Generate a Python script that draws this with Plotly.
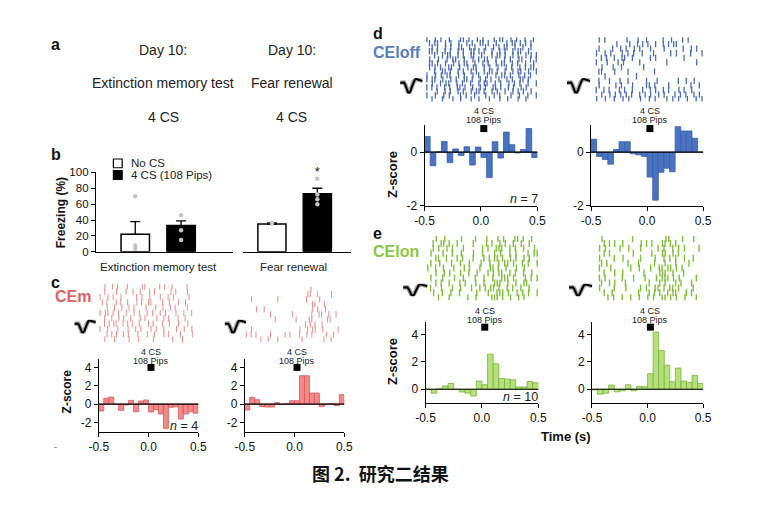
import numpy as np
import plotly.graph_objects as go

W, H = 771, 508
FONT = "Liberation Sans, Arial, sans-serif"
CJK = "Noto Sans CJK SC"

# ---------------- Panel b data (freezing %) ----------------
b_conditions = ["No CS", "4 CS"]
b_mean_ext = [22, 33]
b_err_ext = [16, 6]
b_mean_ren = [35, 73]
b_err_ren = [1.5, 7]
b_dots_ext_nocs = [70, 8, 4]
b_dots_ext_cs = [46, 27, 15]
b_dots_ren_nocs = [35.5, 36.5]
b_dots_ren_cs = [92, 72, 66, 60]
b_star_value = 99
b_yticks = [0, 20, 40, 60, 80, 100]

# ---------------- PSTH z-scores (20 bins of 50 ms, -0.5..0.5 s) ----------------
bin_width = 0.05
hist_c_ext = [-0.76, 0.62, 0.76, -0.05, -0.69, -0.1, 0.4, -0.84, 0.33, 0.44,
              -0.87, -0.62, -1.09, -2.65, -0.36, -0.3, -1.64, -1.09, -0.84, -1.0]
hist_c_ren = [-0.65, 0.73, 0.47, -0.29, -0.33, -0.33, 0.15, -0.05, 0.05, 0.36,
              0.36, 3.09, 3.09, 1.2, 1.2, -0.29, 0.0, 0.05, -0.18, 1.02]
hist_d_ext = [0.58, -0.51, 0.02, 0.4, -0.39, 0.12, -0.12, 0.2, -0.48, 0.19,
              -0.2, -0.95, 0.39, -0.22, 0.75, 0.28, -0.03, 0.1, 0.88, -0.2]
hist_d_ren = [0.48, -0.16, -0.27, -0.45, 0.1, 0.39, 0.39, -0.06, -0.1, -0.16,
              -0.93, -1.79, -0.75, -0.6, -0.73, 0.95, 0.79, 0.79, 0.52, 0.0]
hist_e_ext = [0.0, -0.29, 0.05, 0.24, 0.43, 0.0, -0.2, -0.29, -0.5, 0.6,
              0.33, 2.57, 1.86, 0.79, 0.74, 0.69, 0.17, 0.17, 0.57, 0.48]
hist_e_ren = [-0.05, -0.36, -0.29, 0.31, -0.19, -0.12, 0.33, -0.12, 0.2, 0.19,
              1.14, 4.19, 2.83, 1.76, 0.55, 1.55, 0.6, 0.5, 1.02, 0.43]
cs_onset_t = 0.025
cs_marker_c = 4.0
cs_marker_d = 0.88
cs_marker_e = 4.55
n_units = {"c": 4, "d": 7, "e": 10}

# ---------------- Raster spike trains ('|' = spike, one trial per row) ----------------
raster_c_ext = [
    "..|..|.|...|.....||.....|.|..|.....|....",
    "..|....|...|..|..|...|.|......|.|....|....",
    "|..|.|..|.....|.|..|...|..|.|.....|...",
    ".|.|...|.|..|...|.|..||....|..|...|..|.....",
    "...|..|..|..|.|....|...|..|..|.|....|....",
    "|.||.|.|..|..|.|..|.|..|.|...|..|..|..",
    "..|..|..|.|..|...|.|....|..|.|...|..|.....",
    "..|.|.||..|.|.|..|...|.|...|..|...|...|....",
    "|..|...|...|..|.|...|.|..|....|..|..|..",
    "...|.|.|..|.|...|...|..|...|.|....|....|..",
    "..|...|.....|...|.....|.......|...|......",
]
raster_c_ren = [
    "..........................|.............",
    "..........................||..|.....|.....",
    "..|.........|..........|....|.........",
    "............................||...|........",
    "....|..|..................|.|..|.......",
    "..........|........|.......|..||..|..|...",
    "...........|.......|....||.....||.....",
    ".........................|.|.|..|.........",
    "..|..................|..|.||..|.....|..",
    "|.|.|.....|.....|.|...|..|.|.....|..|....",
    "......|..|...|.........|........|..|.....",
]
raster_d_ext = [
    "|..|.|..|...||.|..|.|...|.||..|.|..|..|.",
    ".|.||..|.|..|..|.|..||.|..|...|.||.|.|.|..",
    "..|.|..|.|..||..|.|...|..|.|.||..|..|..|..",
    ".||.|..|.|..|.|..||.|.|..|..|.|..|.||..|...",
    "...|..|.||..|.|..||..|...|.||.|..|.|..|.|.|",
    ".|..|..|.||..|..|.|.||..|..|.|..||..|.|",
    ".||.|..|..|.|.||..|..|.|..|.||..|.|..|..|.",
    ".|.|.|..||..|..|.||..|.|..|..|.|..|.|.||.",
    "...|..||.|..|.|..|.|..|.||.|..|..|.||..|..|",
    "|..|.|.||..|.|..|.|..|..|.||.|..|.|.|..",
    "|.||..|..|.|..||.|..|.|.|..|..|.|..||.|...",
    "..|..|.||..|.|..|..|.||..|.|..|.|.|..|..|",
    "|.|.|..|.|..||.|..|..|.|..||.|..|.|..|.|....",
    "....|..|.|..|.|..|.||.|..|.|..|..|.|.|..|..",
    "|..|..|.|...|.|..|...|..|.|...|..|..|..|",
    "..|...|...|..|...|..|...|...|..|...|..|....",
]
raster_d_ren = [
    "..|.|.......|...|..|.....|..|...|.|.....",
    ".........|....|..|.|.|..|..|.|.||..........",
    "..|....|..|.|..|.|...|....|......|..|.|..",
    ".|..|.|...|.|.|..|...|.....|.|....|...|",
    "...|.|..|..||..|......|.|..........|.......",
    ".|...|...|.|.....|.........|..........|..",
    "...|...|..|.......|.....................",
    "..||....|....|.........|..................",
    "....|..........|.......................",
    "..|...|...|..|......|...|.......|..|..|...",
    "..|.....|.|...|....||.|....|.......|..|.",
    ".|..|.|...|.|..|...|..|.|..|.|...|.|..|....",
    "...|..|.|.|.|.|..|.|.|..|.|...|.|.|..|.|.",
    ".|..|..|..|.|...|..|.|...|.|.|..|..|.|",
]
raster_e_ext = [
    "...|..|.....|....|...|...|.|...||.|..|..",
    "..|..||.|..|.....|....|.|..|.|..|..|..|...",
    "..|.|..|.|...|......|.|..|||..|.|..|...|.",
    ".|...|..|..|...|..|...|.|..|.|...|.||",
    "...||..|...|.|...|...|.|.||.|..|.|..|.|...",
    ".|..|...|..|..|...|..|..|.||.|..|.|..|",
    "|..|..|...|...|.|...|...||.|..|...|..|.....",
    "...|..|.|...|..|..|...|.|.||..|.|..|..|..",
    ".|...|...|..|...|..|..|..|||.|...|.|.|",
    "...|.|..|...|.|...|..|...|||..|..|..||....",
    ".|...|...|..|...|..|.|.||.|..|.|..|..|...",
    "..|..|..|..|.....|...|..|||.|..|.|.|..|",
    "....|...|......|..|.....|||.|..|..|.|.....",
]
raster_e_ren = [
    "...|..........|...........||....|...|...",
    "....|.|.|..|......|.|.|...||.|.|..........",
    "..|.|....|..|...|.....|.|..|.|.|....|.",
    "....|.|........|......|...||..|.|.........",
    "..|....|..|.....|....|..|.|.|..|..|...",
    "...|.|.......|...|.....|...|...|....|.....",
    "..|...|......|..|...|..||.||.|.|.......",
    "....|...|..|.......|.....|||..|...|.......",
    "..|.|.....|...|...|...|.|||.|.|.....|..",
    "...|..|.|...|........|...|.|...|.|...|....",
    "..|....|...|....|.|..||.|.||.|....|...",
    "....|..|.........|...|.|.|..|.||...|.|....",
    ".....|.|..|..|..|..|.|..||.|.|..|...|..",
]

# mean spike waveform (normalised amplitude)
waveform = [0.1, 0.12, 0.15, 0.12, -0.15, -0.6, -0.95, -1.0, -0.75, -0.3, 0.15,
            0.42, 0.52, 0.5, 0.44, 0.38, 0.33, 0.3]

# ---------------- colours ----------------
RED_FILL, RED_EDGE, RED_TXT = "#f4898a", "#d9575a", "#e06262"
BLUE_FILL, BLUE_EDGE, BLUE_TXT = "#4a73c2", "#365ea8", "#5a7dc0"
GREEN_FILL, GREEN_EDGE, GREEN_TXT = "#b6e07c", "#79b43a", "#8cc63f"

fig = go.Figure()
axes = {}
annotations = []
shapes = []
counter = [0]


def new_axes(x0, x1, y0, y1, xcfg, ycfg):
    counter[0] += 1
    n = counter[0]
    sfx = "" if n == 1 else str(n)
    xref, yref = "x" + sfx, "y" + sfx
    xc = dict(domain=[x0 / W, x1 / W], anchor=yref, showgrid=False, zeroline=False)
    xc.update(xcfg)
    yc = dict(domain=[1 - y1 / H, 1 - y0 / H], anchor=xref, showgrid=False, zeroline=False)
    yc.update(ycfg)
    axes["xaxis" + sfx] = xc
    axes["yaxis" + sfx] = yc
    return xref, yref


def text(x, y, s, size, color="#222", bold=False, anchor="center", angle=0, family=FONT, xref="paper"):
    if bold:
        s = "<b>" + s + "</b>"
    annotations.append(dict(
        x=(x / W if xref == "paper" else x), y=1 - y / H, xref=xref, yref="paper",
        text=s, showarrow=False, xanchor=anchor, yanchor="middle", textangle=angle,
        font=dict(size=size, color=color, family=family)))


AX = dict(showline=True, linecolor="black", linewidth=1, ticks="outside", ticklen=4,
          tickcolor="black", tickwidth=1, tickfont=dict(size=12, family=FONT, color="#111"))

bin_centers = -0.5 + bin_width * (np.arange(len(hist_c_ext)) + 0.5)


def hist_panel(x0, x1, y0, y1, yrange, yticks, values, fill, edge, cs_z, label_y):
    xcfg = dict(AX, range=[-0.5, 0.5], tickvals=[-0.5, 0, 0.5], ticktext=["-0.5", "0.0", "0.5"])
    ycfg = dict(AX, range=yrange, tickvals=yticks, ticktext=[str(v) for v in yticks])
    xr, yr = new_axes(x0, x1, y0, y1, xcfg, ycfg)
    fig.add_trace(go.Bar(x=bin_centers, y=values, width=bin_width,
                         marker=dict(color=fill, line=dict(color=edge, width=0.8)),
                         xaxis=xr, yaxis=yr, showlegend=False))
    fig.add_trace(go.Scatter(x=[cs_onset_t], y=[cs_z], mode="markers",
                             marker=dict(symbol="square", size=7, color="black"),
                             xaxis=xr, yaxis=yr, showlegend=False, cliponaxis=False))
    shapes.append(dict(type="line", xref=xr + " domain", yref=yr, x0=0, x1=1, y0=0, y1=0,
                       line=dict(color="black", width=1.2), layer="above"))
    text(cs_onset_t, label_y, "4 CS", 9, "#222", xref=xr)
    text(cs_onset_t, label_y + 9, "108 Pips", 9, "#222", xref=xr)


def raster_panel(x0, x1, y0, y1, rows, color, size, width=1.2):
    xr, yr = new_axes(x0, x1, y0, y1, dict(range=[-0.5, 0.5], visible=False),
                      dict(range=[len(rows) - 0.5, -0.5], visible=False))
    xs, ys = [], []
    for k, row in enumerate(rows):
        for i, ch in enumerate(row):
            if ch == "|":
                xs.append(-0.5 + (i + 0.5) / len(row))
                ys.append(k)
    fig.add_trace(go.Scatter(x=xs, y=ys, mode="markers",
                             marker=dict(symbol="line-ns", size=size, line=dict(width=width, color=color)),
                             xaxis=xr, yaxis=yr, showlegend=False))


def wave_panel(x0, x1, y0, y1):
    xr, yr = new_axes(x0, x1, y0, y1, dict(visible=False), dict(visible=False))
    idx = list(range(len(waveform)))
    fig.add_trace(go.Scatter(x=idx, y=waveform, mode="lines", line=dict(color="rgba(60,60,60,0.45)", width=4.5),
                             xaxis=xr, yaxis=yr, showlegend=False, hoverinfo="skip"))
    fig.add_trace(go.Scatter(x=idx, y=waveform, mode="lines", line=dict(color="black", width=2),
                             xaxis=xr, yaxis=yr, showlegend=False))


def bar_panel(x0, x1, means, errs, dots_nocs, dots_cs, xrange, show_y):
    xcfg = dict(type="category", range=xrange, showline=True, linecolor="black", linewidth=1.2,
                showticklabels=False, ticks="")
    if show_y:
        ycfg = dict(AX, range=[0, 100], tickvals=b_yticks, tickfont=dict(size=11.5, family=FONT, color="#111"))
    else:
        ycfg = dict(range=[0, 100], visible=False)
    xr, yr = new_axes(x0, x1, 170.7, 252.3, xcfg, ycfg)
    fig.add_trace(go.Bar(x=b_conditions, y=means, width=0.62,
                         marker=dict(color=["white", "black"], line=dict(color="black", width=1.5)),
                         error_y=dict(type="data", symmetric=False, array=errs, arrayminus=[0, 0],
                                      color="black", thickness=1.3, width=5),
                         xaxis=xr, yaxis=yr, showlegend=False))
    for cond, vals in zip(b_conditions, [dots_nocs, dots_cs]):
        fig.add_trace(go.Scatter(x=[cond] * len(vals), y=vals, mode="markers",
                                 marker=dict(color="#c4c4c4", size=4.5),
                                 xaxis=xr, yaxis=yr, showlegend=False, cliponaxis=False))
    return xr, yr


# ---------------- Panel a ----------------
text(47, 40, "a", 16, "#111", bold=True)
for cx, title in [(157, "Extinction memory test"), (289, "Fear renewal")]:
    text(cx, 45, "Day 10:", 14)
    text(cx, 79, title, 14)
    text(cx, 114, "4 CS", 14)

# ---------------- Panel b ----------------
text(47, 152, "b", 16, "#111", bold=True)
bar_panel(88, 229, b_mean_ext, b_err_ext, b_dots_ext_nocs, b_dots_ext_cs, [-0.86, 2.14], True)
xr_b2, yr_b2 = bar_panel(239, 350, b_mean_ren, b_err_ren, b_dots_ren_nocs, b_dots_ren_cs, [-0.635, 1.75], False)
fig.add_trace(go.Scatter(x=["4 CS"], y=[b_star_value], mode="text", text=["*"],
                         textfont=dict(size=13, color="#222", family=FONT), textposition="middle center",
                         xaxis=xr_b2, yaxis=yr_b2, showlegend=False, cliponaxis=False))
text(52, 212, "Freezing (%)", 12, "#111", bold=True, angle=-90)
text(152, 268, "Extinction memory test", 11.5)
text(291, 268, "Fear renewal", 11.5)
# legend
shapes.append(dict(type="rect", xref="paper", yref="paper", x0=106 / W, x1=115 / W, y0=1 - 166 / H, y1=1 - 157 / H,
                   line=dict(color="black", width=1.2), fillcolor="white"))
shapes.append(dict(type="rect", xref="paper", yref="paper", x0=106 / W, x1=115 / W, y0=1 - 178 / H, y1=1 - 169 / H,
                   line=dict(color="black", width=1.2), fillcolor="black"))
text(122, 161.5, "No CS", 11.5, anchor="left")
text(122, 173.5, "4 CS (108 Pips)", 11.5, anchor="left")

# ---------------- Panel c (CEm) ----------------
text(47, 284, "c", 16, "#111", bold=True)
text(44, 298, "CEm", 16, RED_TXT, bold=True, anchor="left")
text(47, 453, "-", 9, "#666")
raster_panel(91, 193, 285, 345, raster_c_ext, "#ea8c8c", 4.5, 1.0)
raster_panel(241, 343, 288, 345, raster_c_ren, "#ea8c8c", 4.5, 1.0)
wave_panel(66, 88, 322, 336)
wave_panel(220, 242, 322, 336)
hist_panel(91, 193, 362.4, 436.7, [-3.0, 4.9], [4, 2, 0, -2], hist_c_ext, RED_FILL, RED_EDGE, cs_marker_c, 355)
hist_panel(240.7, 342.7, 362.4, 436.7, [-3.0, 4.9], [4, 2, 0, -2], hist_c_ren, RED_FILL, RED_EDGE, cs_marker_c, 355)
text(58, 396, "Z-score", 12, "#111", bold=True, angle=-90)
text(195, 431, "<i>n</i> = %d" % n_units["c"], 12.5, anchor="right")

# ---------------- Panel d (CEloff) ----------------
text(377, 28, "d", 16, "#111", bold=True)
text(370, 48, "CEloff", 16, BLUE_TXT, bold=True, anchor="left")
raster_panel(426, 541, 32, 98, raster_d_ext, "#4a6cb3", 4.5, 1.3)
raster_panel(597, 711, 32, 98, raster_d_ren, "#4a6cb3", 4.5, 1.3)
wave_panel(400, 423, 74, 90)
wave_panel(571, 595, 74, 90)
hist_panel(425, 540.7, 122.5, 205, [-2.0, 1.0], [0, -2], hist_d_ext, BLUE_FILL, BLUE_EDGE, cs_marker_d, 108)
hist_panel(595.7, 710.7, 122.5, 205, [-2.0, 1.0], [0, -2], hist_d_ren, BLUE_FILL, BLUE_EDGE, cs_marker_d, 108)
text(392, 173, "Z-score", 13, "#111", bold=True, angle=-90)
text(543, 198, "<i>n</i> = %d" % n_units["d"], 12.5, anchor="right")

# ---------------- Panel e (CElon) ----------------
text(377, 233, "e", 16, "#111", bold=True)
text(370, 252, "CElon", 16, GREEN_TXT, bold=True, anchor="left")
raster_panel(427, 542, 236, 302, raster_e_ext, "#80bf3a", 5, 1.4)
raster_panel(597, 711, 236, 302, raster_e_ren, "#80bf3a", 5, 1.4)
wave_panel(403, 428, 285, 298)
wave_panel(573, 597, 285, 298)
hist_panel(426, 541.7, 324, 407.3, [-1.0, 4.95], [4, 2, 0], hist_e_ext, GREEN_FILL, GREEN_EDGE, cs_marker_e, 313)
hist_panel(596.7, 710.7, 324, 407.3, [-1.0, 4.95], [4, 2, 0], hist_e_ren, GREEN_FILL, GREEN_EDGE, cs_marker_e, 313)
text(392, 365, "Z-score", 13, "#111", bold=True, angle=-90)
text(543, 401, "<i>n</i> = %d" % n_units["e"], 12.5, anchor="right")
text(570, 442, "Time (s)", 13, "#111", bold=True)

# ---------------- caption ----------------
text(380, 479, "图 2.  研究二结果", 18, "#111", bold=True, family=CJK)

fig.update_layout(width=W, height=H, margin=dict(l=0, r=0, t=0, b=0),
                  paper_bgcolor="white", plot_bgcolor="rgba(0,0,0,0)",
                  barmode="overlay", showlegend=False,
                  annotations=annotations, shapes=shapes, **axes)
fig.write_html("out.html")
